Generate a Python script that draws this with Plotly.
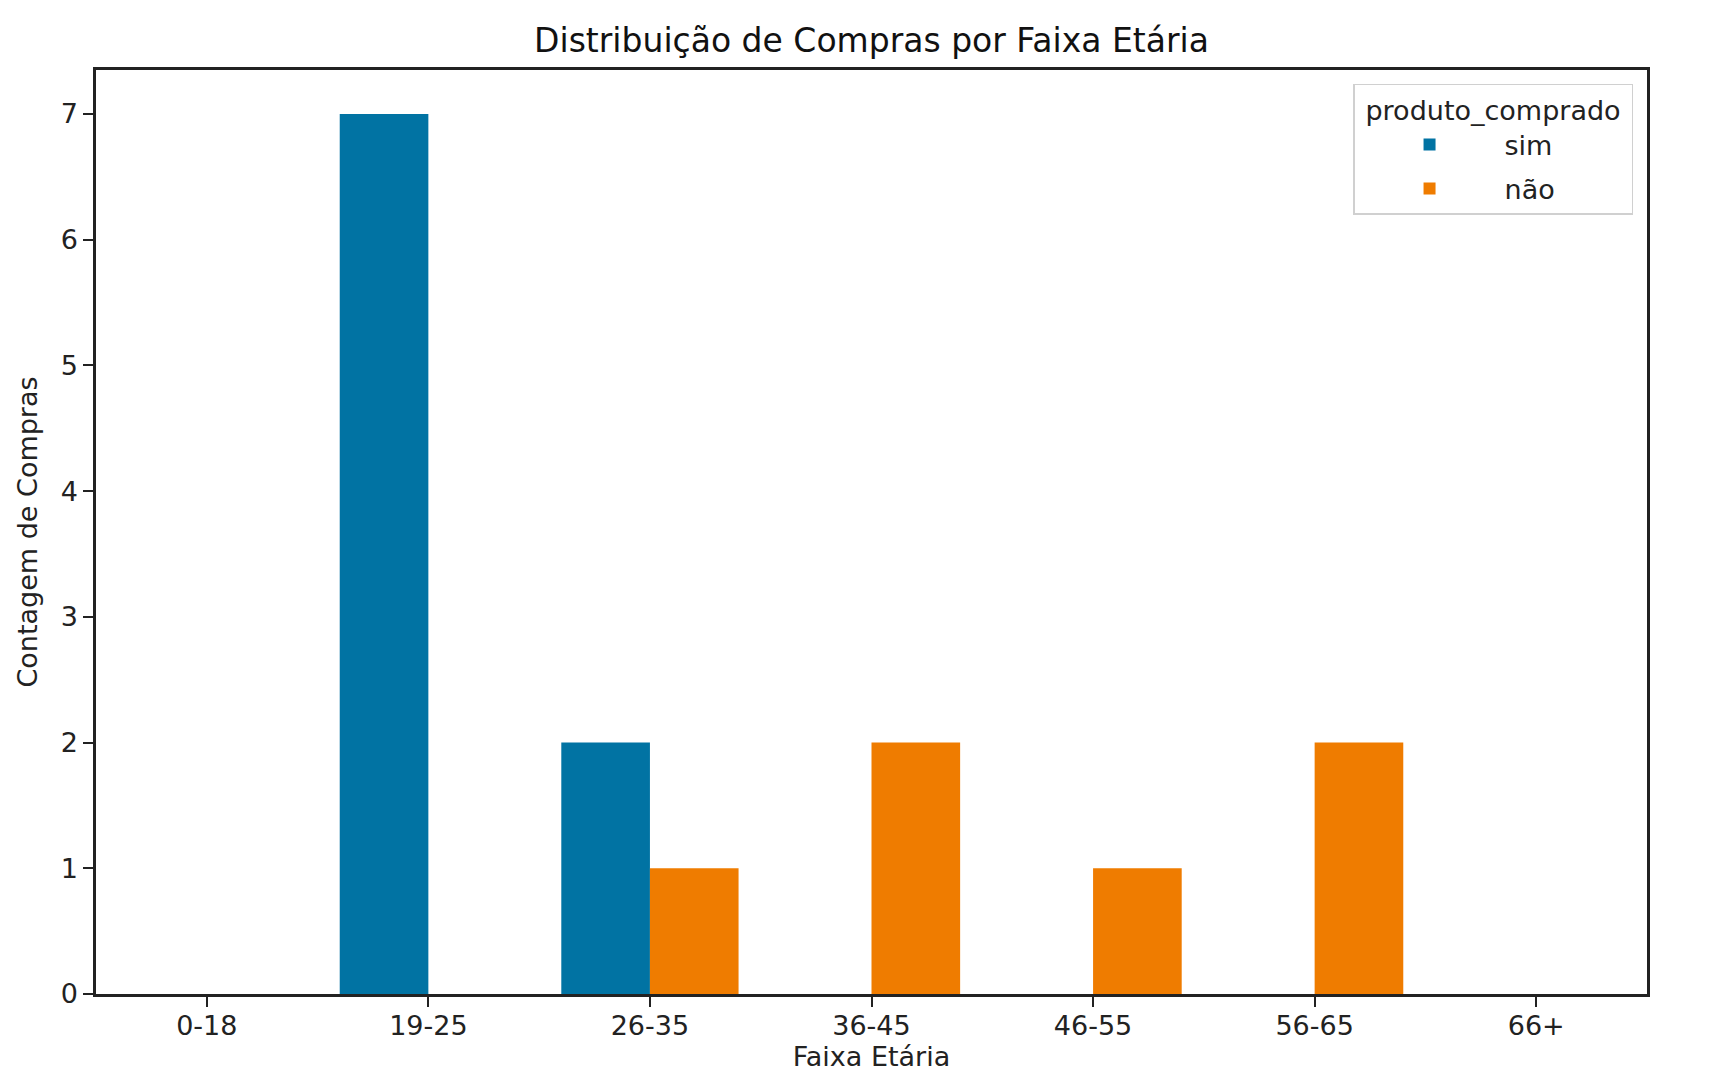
import plotly.graph_objects as go

# contagem de compras por faixa etaria
faixas = ["0-18", "19-25", "26-35", "36-45", "46-55", "56-65", "66+"]
sim = [0, 7, 2, 0, 0, 0, 0]
nao = [0, 0, 1, 2, 1, 2, 0]

azul = "#0173a3"
laranja = "#ef7c00"
fonte = "DejaVu Sans"

fig = go.Figure()
fig.add_trace(go.Bar(x=faixas, y=sim, name="sim", marker_color=azul,
                     marker_line_width=0, legendgroup="a"))
fig.add_trace(go.Bar(x=faixas, y=nao, name="não", marker_color=laranja,
                     marker_line_width=0, legendgroup="b"))

fig.update_layout(
    width=1719, height=1089,
    margin=dict(l=88, r=80, t=62, b=103),
    barmode="group", bargap=0.2, bargroupgap=0,
    plot_bgcolor="white", paper_bgcolor="white",
    font=dict(family=fonte, size=27, color="#222"),
    title=dict(text="Distribuição de Compras por Faixa Etária", x=0.5, xref="paper",
               y=1 - 32 / 1089, yanchor="middle", font=dict(size=33, color="#111")),
    legend=dict(title=dict(text="\u00a0produto_comprado\u00a0", side="top center",
                           font=dict(size=27)),
                x=0.991, xanchor="right", y=0.985, yanchor="top",
                bgcolor="white", bordercolor="#d0d0d0", borderwidth=1.5,
                font=dict(size=27), itemwidth=140, tracegroupgap=6),
    showlegend=True,
)
fig.update_xaxes(
    title=dict(text="Faixa Etária", standoff=6, font=dict(size=27)),
    range=[-0.5, 6.5], showline=True, linecolor="#222", linewidth=2.5, mirror=True,
    ticks="outside", ticklen=10, tickwidth=2.2, tickcolor="#222", showgrid=False,
    ticklabelstandoff=-4,
)
fig.update_yaxes(
    title=dict(text="Contagem de Compras", standoff=16, font=dict(size=27)),
    range=[0, 7.35], dtick=1, showline=True, linecolor="#222", linewidth=2.5, mirror=True,
    ticks="outside", ticklen=10, tickwidth=2.2, tickcolor="#222", showgrid=False, zeroline=False,
)

fig.write_html("out.html")
